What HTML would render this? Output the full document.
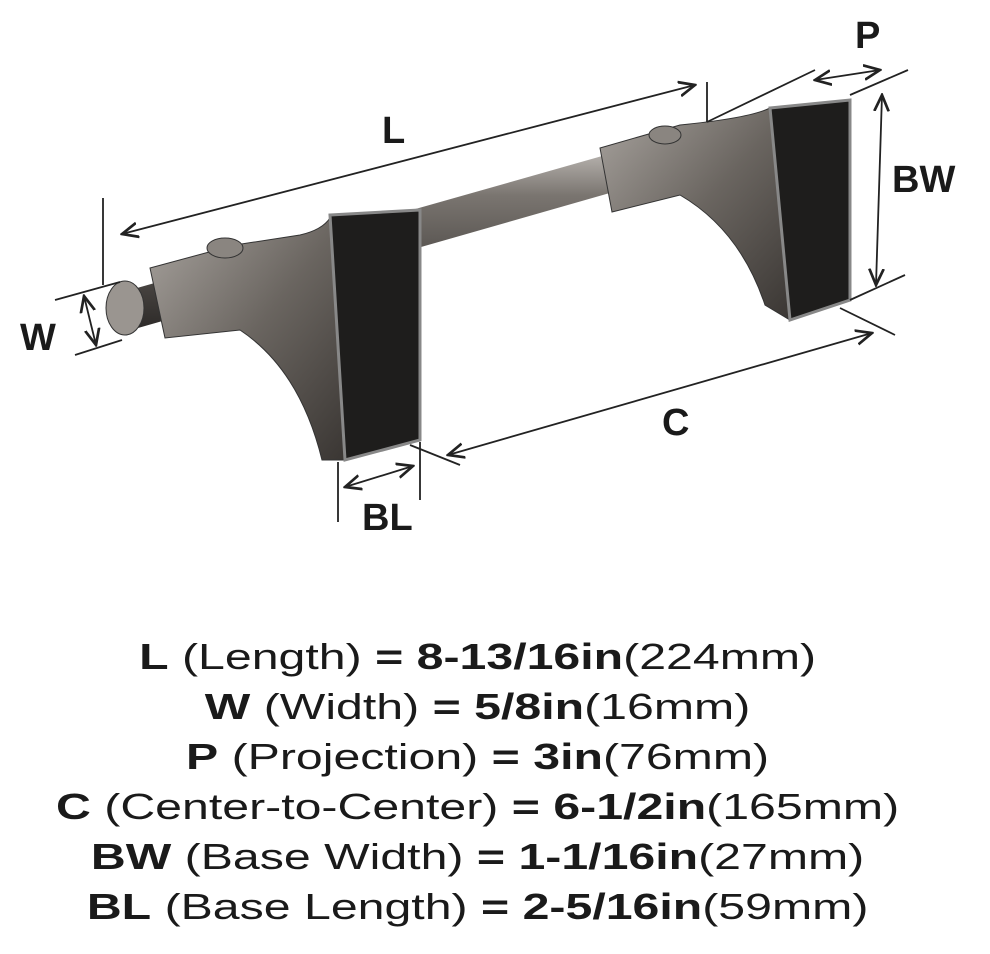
<!DOCTYPE html>
<html><head><meta charset="utf-8"><style>
body{margin:0;background:#fff;width:990px;height:954px;overflow:hidden}
.t{position:absolute;left:0;width:956px;text-align:center;font-family:"Liberation Sans",sans-serif;font-size:36px;color:#1a1a1a;line-height:50px}
.t span{display:inline-block;transform:scaleX(1.34)}
b{font-weight:bold}
</style></head><body>
<svg width="990" height="600" style="position:absolute;left:0;top:0">
<defs>
<linearGradient id="rod" x1="0" y1="0" x2="0" y2="1"><stop offset="0" stop-color="#e0dcd8"/><stop offset="0.35" stop-color="#7a7570"/><stop offset="1" stop-color="#2e2b29"/></linearGradient>
<linearGradient id="met" x1="0" y1="0" x2="1" y2="1"><stop offset="0" stop-color="#a8a39e"/><stop offset="0.5" stop-color="#6a6560"/><stop offset="1" stop-color="#3a3633"/></linearGradient>
<marker id="a" markerWidth="10" markerHeight="10" refX="9" refY="5" orient="auto-start-reverse"><path d="M0,1 L9,5 L0,9" fill="none" stroke="#222" stroke-width="1.5"/></marker>
</defs>
<polygon points="130,290 715,124 725,160 138,328" fill="url(#rod)"/>
<ellipse cx="125" cy="308" rx="19" ry="27" fill="#9a9590" stroke="#333"/>
<path d="M150,268 L235,245 L300,235 Q322,230 330,218 L345,460 L322,460 Q300,370 240,330 L165,338 Z" fill="url(#met)" stroke="#333"/>
<ellipse cx="225" cy="248" rx="18" ry="10" fill="#8a8580" stroke="#333"/>
<polygon points="330,215 420,210 420,440 345,460" fill="#1e1d1c" stroke="#888" stroke-width="3"/>
<path d="M600,148 L680,125 Q750,118 770,108 L790,320 L765,305 Q740,230 680,195 L612,212 Z" fill="url(#met)" stroke="#333"/>
<ellipse cx="665" cy="135" rx="16" ry="9" fill="#8a8580" stroke="#333"/>
<polygon points="770,108 850,100 850,300 790,320" fill="#1e1d1c" stroke="#888" stroke-width="3"/>
<g stroke="#222" stroke-width="1.8" fill="none">
<line x1="122" y1="234" x2="695" y2="85" marker-start="url(#a)" marker-end="url(#a)"/>
<line x1="103" y1="198" x2="103" y2="285"/>
<line x1="707" y1="82" x2="707" y2="122"/>
<line x1="707" y1="122" x2="815" y2="70"/>
<line x1="55" y1="300" x2="120" y2="282"/><line x1="75" y1="355" x2="122" y2="340"/>
<line x1="84" y1="296" x2="96" y2="345" marker-start="url(#a)" marker-end="url(#a)"/>
<line x1="815" y1="80" x2="880" y2="70" marker-start="url(#a)" marker-end="url(#a)"/>
<line x1="850" y1="95" x2="908" y2="70"/><line x1="850" y1="300" x2="905" y2="275"/>
<line x1="882" y1="95" x2="876" y2="285" marker-start="url(#a)" marker-end="url(#a)"/>
<line x1="840" y1="308" x2="895" y2="335"/>
<line x1="448" y1="455" x2="872" y2="333" marker-start="url(#a)" marker-end="url(#a)"/>
<line x1="410" y1="445" x2="460" y2="465"/>
<line x1="338" y1="462" x2="338" y2="522"/><line x1="420" y1="442" x2="420" y2="500"/>
<line x1="345" y1="487" x2="413" y2="466" marker-start="url(#a)" marker-end="url(#a)"/>
</g>
<g font-family="Liberation Sans,sans-serif" font-size="38" fill="#1a1a1a" font-weight="bold">
<text x="382" y="143">L</text><text x="20" y="350">W</text><text x="855" y="48">P</text>
<text x="892" y="192">BW</text><text x="662" y="435">C</text><text x="362" y="530">BL</text>
</g>
</svg>
<div class="t" style="top:632px"><span><b>L</b> (Length) <b>= 8-13/16in</b>(224mm)</span></div>
<div class="t" style="top:682px"><span><b>W</b> (Width) <b>= 5/8in</b>(16mm)</span></div>
<div class="t" style="top:732px"><span><b>P</b> (Projection) <b>= 3in</b>(76mm)</span></div>
<div class="t" style="top:782px"><span><b>C</b> (Center-to-Center) <b>= 6-1/2in</b>(165mm)</span></div>
<div class="t" style="top:832px"><span><b>BW</b> (Base Width) <b>= 1-1/16in</b>(27mm)</span></div>
<div class="t" style="top:882px"><span><b>BL</b> (Base Length) <b>= 2-5/16in</b>(59mm)</span></div>
</body></html>
